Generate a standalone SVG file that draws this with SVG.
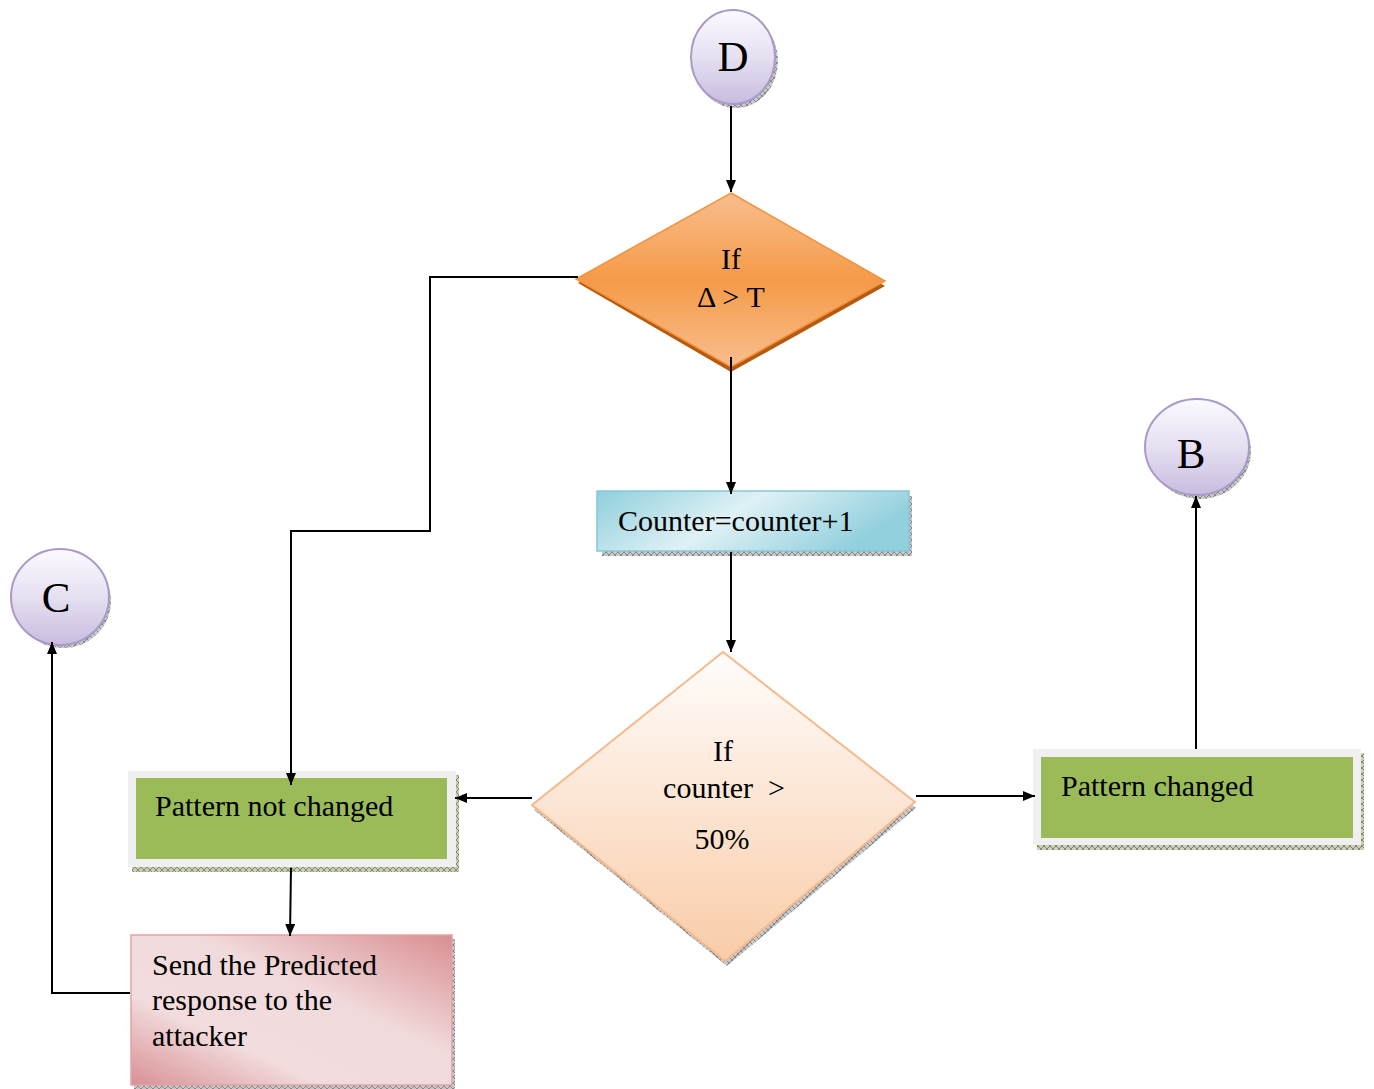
<svg xmlns="http://www.w3.org/2000/svg" width="1374" height="1089" viewBox="0 0 1374 1089">
<style>
.t{font-family:"Liberation Serif","Times New Roman",serif;fill:#000;}
.lbl{font-size:30px;}
.big{font-size:43px;text-anchor:middle;}
.c{text-anchor:middle;}
.pre{white-space:pre;}
.conn{fill:none;stroke:#000;stroke-width:2;}
.circ{fill:url(#gCirc);stroke:#a99ac8;stroke-width:2;}
.hatch{fill:url(#hatch);}
</style>
<defs>
<marker id="arr" viewBox="0 0 12 10" refX="12" refY="5" markerWidth="12" markerHeight="10" markerUnits="userSpaceOnUse" orient="auto"><path d="M0,0 L12,5 L0,10 z" fill="#000"/></marker>
<linearGradient id="gCirc" x1="0" y1="0" x2="0" y2="1"><stop offset="0" stop-color="#fbfaff"/><stop offset="0.5" stop-color="#e6e0f1"/><stop offset="1" stop-color="#c8bce0"/></linearGradient>
<linearGradient id="gOr" x1="0" y1="0" x2="0" y2="1"><stop offset="0" stop-color="#f8be8e"/><stop offset="0.5" stop-color="#f59a48"/><stop offset="1" stop-color="#f8be8e"/></linearGradient>
<linearGradient id="gPeach" x1="0" y1="0" x2="0" y2="1"><stop offset="0" stop-color="#fffdfc"/><stop offset="1" stop-color="#f9cca8"/></linearGradient>
<linearGradient id="gCyan" x1="0" y1="0" x2="1" y2="0.3"><stop offset="0" stop-color="#8fcfdc"/><stop offset="0.5" stop-color="#dff1f5"/><stop offset="1" stop-color="#93d0dd"/></linearGradient>
<linearGradient id="gPink" x1="0" y1="1" x2="1" y2="0"><stop offset="0" stop-color="#d99094"/><stop offset="0.3" stop-color="#f2dcdd"/><stop offset="0.6" stop-color="#f1dadb"/><stop offset="1" stop-color="#d98e92"/></linearGradient>
<pattern id="hatch" width="6" height="6" patternUnits="userSpaceOnUse"><rect width="6" height="6" fill="#c8c8c8"/><path d="M0,0 L6,6 M6,0 L0,6" stroke="#777" stroke-width="0.8"/></pattern>
<pattern id="hatchG" width="6" height="6" patternUnits="userSpaceOnUse"><rect width="6" height="6" fill="#c9cfb8"/><path d="M0,0 L6,6 M6,0 L0,6" stroke="#6f7a55" stroke-width="0.8"/></pattern>
</defs>

<g id="nodeD">
<ellipse cx="736" cy="61" rx="42" ry="47" class="hatch"/>
<ellipse cx="733" cy="57" rx="42" ry="47" class="circ"/>
<text x="733" y="71" class="t big">D</text>
</g>

<g id="decision1">
<polygon points="731,198 885,286 731,372 578,283" fill="#b55a10"/>
<polygon points="731,193 885,281 731,367 576,279" fill="url(#gOr)" stroke="#f3923c" stroke-width="1.5"/>
<text x="731" y="269" class="t lbl c">If</text>
<text x="731" y="307" class="t lbl c">Δ &gt; T</text>
</g>

<g id="counter">
<rect x="602" y="496" width="310" height="60" fill="url(#hatch)"/>
<rect x="597" y="491" width="312" height="60" fill="url(#gCyan)" stroke="#86c8d6" stroke-width="1.5"/>
<text x="618" y="531" class="t lbl">Counter=counter+1</text>
</g>

<g id="decision2">
<polygon points="725,658 916,808 727,966 534,810" fill="url(#hatch)"/>
<polygon points="723,652 915,802 725,961 532,805" fill="url(#gPeach)" stroke="#f6b98c" stroke-width="2"/>
<text x="723" y="761" class="t lbl c">If</text>
<text x="724" y="798" class="t lbl c pre">counter  &gt;</text>
<text x="722" y="849" class="t lbl c">50%</text>
</g>

<g id="notChanged">
<rect x="132" y="775" width="327" height="97" fill="url(#hatchG)"/>
<rect x="128" y="771" width="328" height="96" fill="#f0f0f0"/>
<rect x="136" y="778" width="311" height="81" fill="#9bbb59"/>
<text x="155" y="816" class="t lbl">Pattern not changed</text>
</g>

<g id="changed">
<rect x="1037" y="753" width="327" height="97" fill="url(#hatchG)"/>
<rect x="1033" y="749" width="328" height="96" fill="#f0f0f0"/>
<rect x="1041" y="757" width="312" height="81" fill="#9bbb59"/>
<text x="1061" y="796" class="t lbl">Pattern changed</text>
</g>

<g id="send">
<rect x="134" y="939" width="321" height="150" fill="url(#hatch)"/>
<rect x="131" y="935" width="321" height="150" fill="url(#gPink)" stroke="#e3a2a5" stroke-width="1.5"/>
<text x="152" y="975" class="t lbl">Send the Predicted</text>
<text x="152" y="1010" class="t lbl">response to the</text>
<text x="152" y="1046" class="t lbl">attacker</text>
</g>

<g id="nodeC">
<ellipse cx="63" cy="601" rx="48" ry="47" class="hatch"/>
<ellipse cx="60" cy="597" rx="49" ry="48" class="circ"/>
<text x="56" y="612" class="t big">C</text>
</g>

<g id="nodeB">
<ellipse cx="1200" cy="451" rx="51" ry="48" class="hatch"/>
<ellipse cx="1197" cy="447" rx="52" ry="48" class="circ"/>
<text x="1191" y="468" class="t big">B</text>
</g>

<g id="connectors">
<path class="conn" d="M731,106 L731,192" marker-end="url(#arr)"/>
<path class="conn" d="M578,277 L430,277 L430,531 L291,531 L291,785" marker-end="url(#arr)"/>
<path class="conn" d="M731,357 L731,494" marker-end="url(#arr)"/>
<path class="conn" d="M731,552 L731,652" marker-end="url(#arr)"/>
<path class="conn" d="M532,798 L455,798" marker-end="url(#arr)"/>
<path class="conn" d="M916,796 L1035,796" marker-end="url(#arr)"/>
<path class="conn" d="M291,868 L290,936" marker-end="url(#arr)"/>
<path class="conn" d="M130,993 L52,993 L52,642" marker-end="url(#arr)"/>
<path class="conn" d="M1196,749 L1196,496" marker-end="url(#arr)"/>
</g>
</svg>
